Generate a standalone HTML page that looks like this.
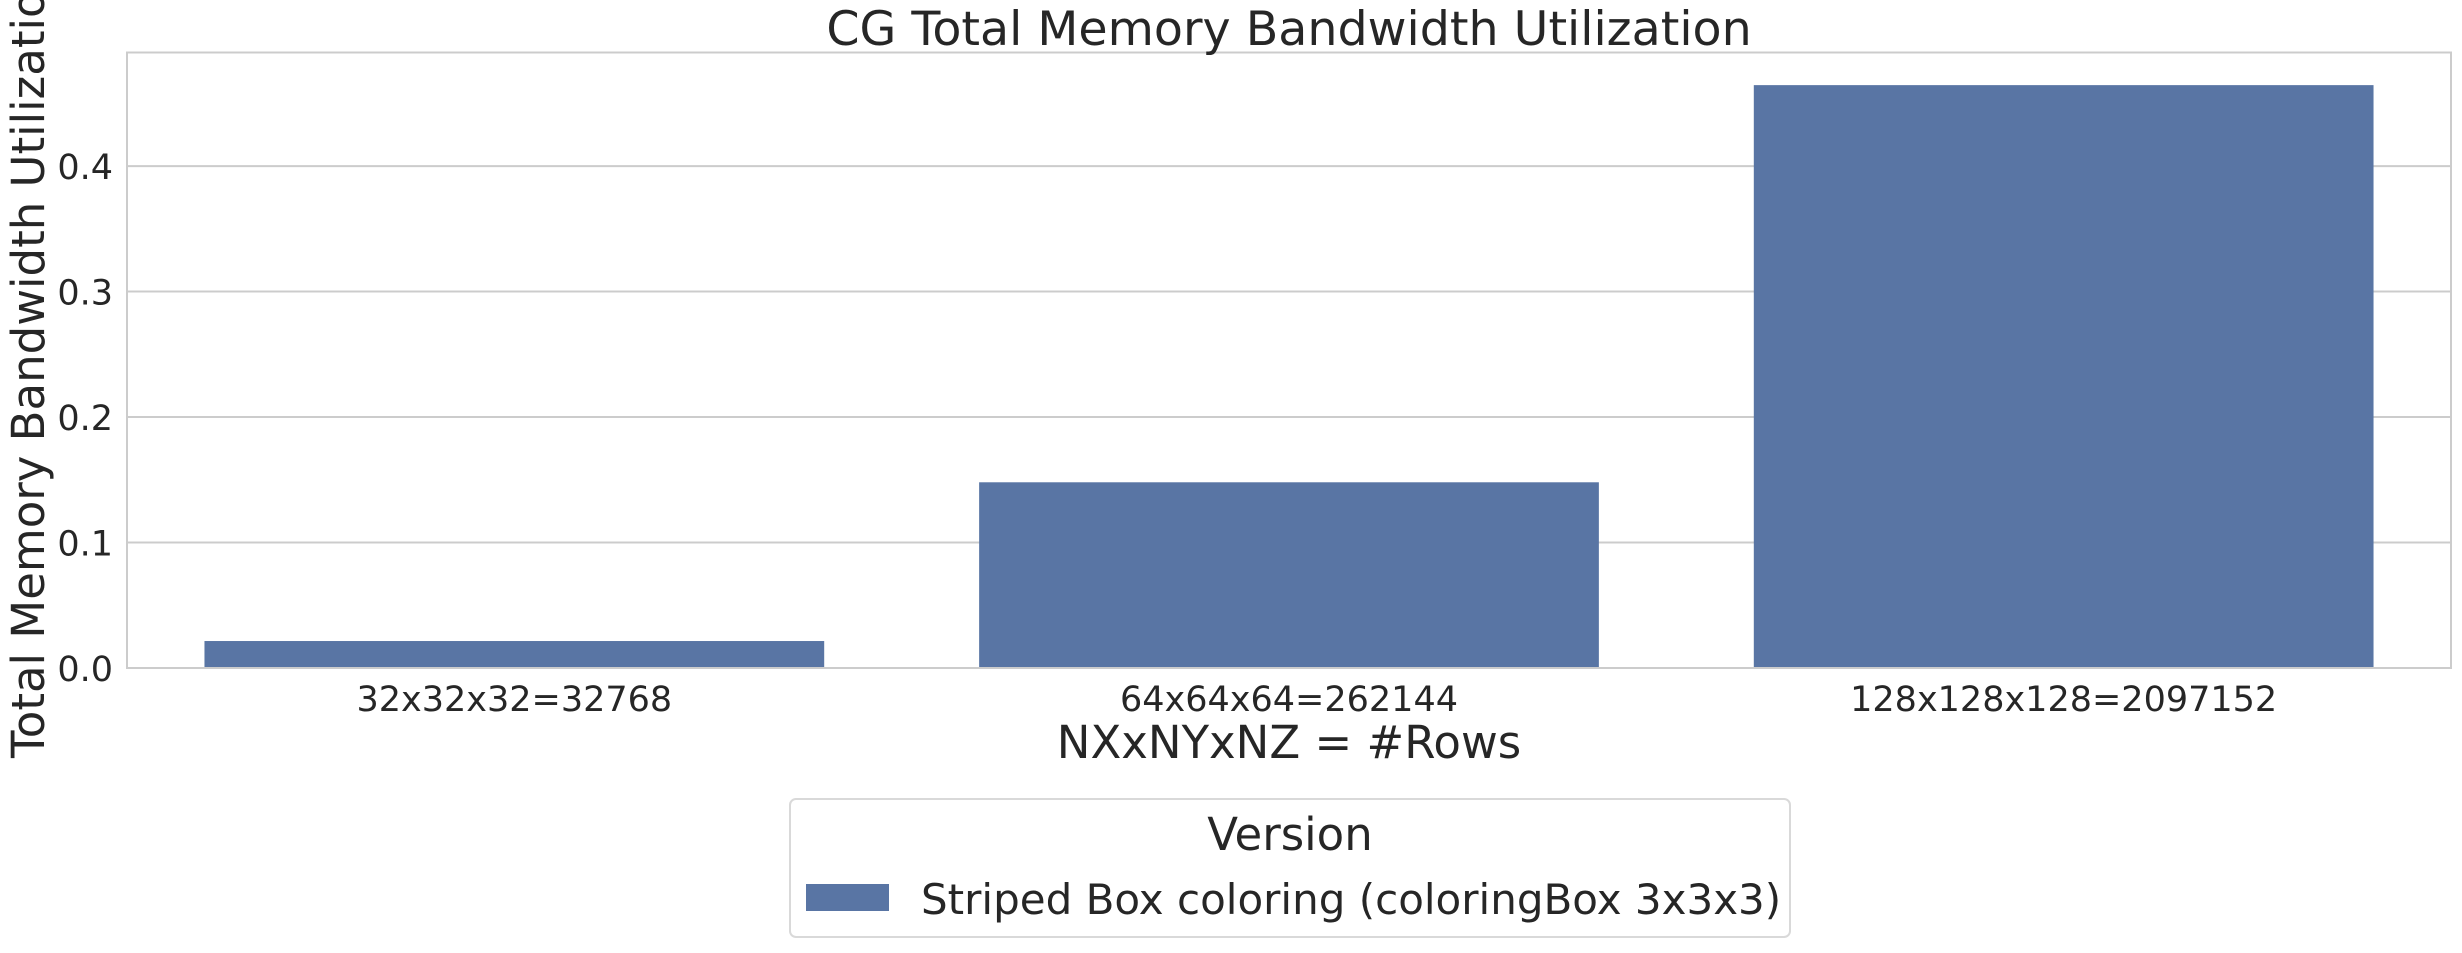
<!DOCTYPE html>
<html><head><meta charset="utf-8"><style>
html,body{margin:0;padding:0;background:#fff;}
svg text{font-family:"DejaVu Sans","Liberation Sans",sans-serif;fill:#262626;}
</style></head><body>
<svg id="chart" width="2462" height="948" xmlns="http://www.w3.org/2000/svg">
<g id="grid"></g>
<g id="bars"></g>
<g id="ticks"></g>
<rect x="127" y="52.5" width="2324" height="615.5" fill="none" stroke="#cccccc" stroke-width="2"/>
<text x="1289" y="45" font-size="47.5" text-anchor="middle">CG Total Memory Bandwidth Utilization</text>
<text transform="translate(44,360) rotate(-90)" font-size="45" text-anchor="middle">Total Memory Bandwidth Utilization</text>
<text x="1289" y="758" font-size="45" text-anchor="middle">NXxNYxNZ = #Rows</text>
<g>
<rect x="790" y="799" width="1000" height="138" rx="6" fill="#fff" stroke="#d9d9d9" stroke-width="2"/>
<text x="1290" y="850" font-size="45" text-anchor="middle">Version</text>
<rect x="806" y="884" width="83" height="27" fill="#5975a4"/>
<text x="921" y="914" font-size="42">Striped Box coloring (coloringBox 3x3x3)</text>
</g>
</svg>
<script>
const categories = ["32x32x32=32768","64x64x64=262144","128x128x128=2097152"];
const values = [0.0215, 0.148, 0.4645];
const yTicks = [0.0, 0.1, 0.2, 0.3, 0.4];
const tickLabels = ["0.0","0.1","0.2","0.3","0.4"];

const NS="http://www.w3.org/2000/svg";
const L=127,R=2451,T=52.5,B=668,YMAX=0.4905;
const y=v=>B-(v/YMAX)*(B-T);
const band=(R-L)/categories.length;
const xc=i=>L+band*(i+0.5);
function mk(tag,attrs,parent){const e=document.createElementNS(NS,tag);for(const k in attrs)e.setAttribute(k,attrs[k]);parent.appendChild(e);return e;}
const grid=document.getElementById('grid'),bars=document.getElementById('bars'),ticks=document.getElementById('ticks');
yTicks.forEach((v,i)=>{
  const ln=mk('line',{x1:L,x2:R,y1:y(v),y2:y(v),stroke:'#cccccc','stroke-width':2},grid);
  
  
  const t=mk('text',{x:L-14,y:y(v)+13,'font-size':35,'text-anchor':'end'},ticks);
  t.textContent=tickLabels[i];
  
  
});
categories.forEach((c,i)=>{
  const w=band*0.8;
  const r=mk('rect',{x:xc(i)-w/2,y:y(values[i]),width:w,height:B-y(values[i]),fill:'#5975a4'},bars);
  
  
  const t=mk('text',{x:xc(i),y:711,'font-size':35,'text-anchor':'middle'},ticks);
  t.textContent=c;
  
  
});
</script>
</body></html>
